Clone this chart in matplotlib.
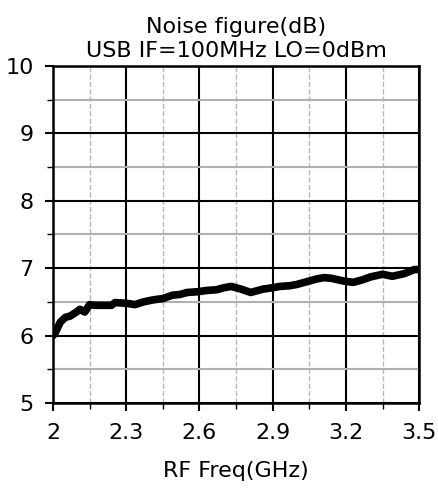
import matplotlib.pyplot as plt
import numpy as np
from matplotlib.ticker import MultipleLocator, FixedLocator

freq = [2.0, 2.01, 2.03, 2.05, 2.07, 2.083, 2.1, 2.11, 2.13, 2.15, 2.17, 2.2, 2.24, 2.254,
        2.3, 2.336, 2.37, 2.41, 2.45, 2.49, 2.52, 2.55, 2.59, 2.63, 2.67, 2.70, 2.73,
        2.77, 2.81, 2.84, 2.86, 2.9, 2.93, 2.97, 3.0, 3.04, 3.08, 3.11, 3.14, 3.19, 3.23,
        3.27, 3.30, 3.35, 3.39, 3.44, 3.48, 3.5]
nf = [6.0, 6.05, 6.2, 6.27, 6.29, 6.32, 6.36, 6.39, 6.35, 6.46, 6.45, 6.45, 6.45, 6.49,
      6.48, 6.46, 6.5, 6.53, 6.55, 6.6, 6.61, 6.64, 6.65, 6.67, 6.68, 6.71, 6.73,
      6.69, 6.64, 6.67, 6.69, 6.71, 6.73, 6.74, 6.76, 6.8, 6.84, 6.86, 6.85, 6.81, 6.79,
      6.83, 6.87, 6.91, 6.88, 6.92, 6.98, 6.98]

fig = plt.figure(figsize=(4.38, 4.91), dpi=100)
ax = fig.add_axes([0.121, 0.179, 0.836, 0.687])

ax.plot(freq, nf, color='black', lw=5.5, solid_capstyle='round', solid_joinstyle='round', zorder=3)

ax.set_xlim(2, 3.5)
ax.set_ylim(5, 10)
ax.set_xticks([2, 2.3, 2.6, 2.9, 3.2, 3.5])
ax.set_xticklabels(['2', '2.3', '2.6', '2.9', '3.2', '3.5'])
ax.xaxis.set_minor_locator(FixedLocator([2.15, 2.45, 2.75, 3.05, 3.35]))
ax.yaxis.set_major_locator(MultipleLocator(1))
ax.yaxis.set_minor_locator(MultipleLocator(0.5))

ax.grid(which='major', color='black', lw=1.5)
ax.xaxis.grid(which='minor', color='#b8b8b8', lw=1, ls='--')
ax.yaxis.grid(which='minor', color='#b0b0b0', lw=1.5, ls='-')

for s in ax.spines.values():
    s.set_linewidth(1.8)

ax.tick_params(which='major', direction='out', length=6, width=1.5, labelsize=16, pad=8)
ax.tick_params(which='minor', direction='out', length=4, width=1)

ax.set_title('Noise figure(dB)\nUSB IF=100MHz LO=0dBm', fontsize=16, pad=6, linespacing=1.3)
ax.set_xlabel('RF Freq(GHz)', fontsize=16, labelpad=13)

fig.savefig('out.png', dpi=100)
